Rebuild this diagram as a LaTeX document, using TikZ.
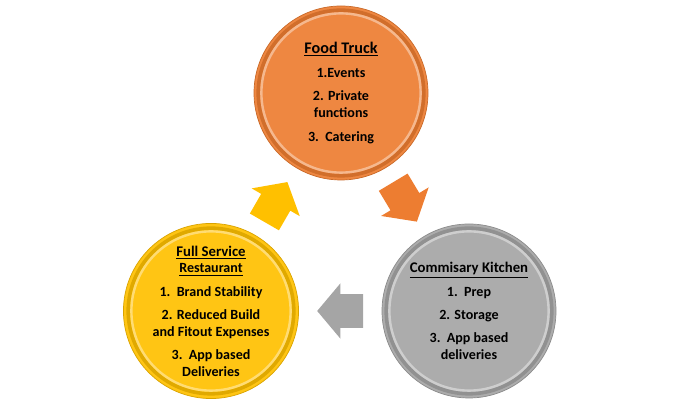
\documentclass[tikz,border=0pt]{standalone}
\usepackage{fontspec}
\setmainfont{Carlito}
\usetikzlibrary{shapes.arrows,calc,positioning}
\definecolor{truckorange}{HTML}{ED7D31}
\definecolor{restgold}{HTML}{FFC000}
\definecolor{kitchgrey}{HTML}{A5A5A5}

\begin{document}
\begin{tikzpicture}[
    disc/.style={circle, inner sep=0pt, minimum size=4.35cm, align=center, font=\bfseries, text=black,
        fill=#1!92!white, draw=#1!85!black, line width=0.5pt,
        path picture={
            \draw[#1!88!black, line width=0.09cm] (path picture bounding box.center) circle[radius=2.07cm];
            \draw[#1!55!white, line width=0.06cm] (path picture bounding box.center) circle[radius=1.99cm];
        }},
    flow/.style={single arrow, fill=#1, inner xsep=0pt, inner ysep=0.4125cm, minimum height=1.15cm,
        single arrow head extend=0.275cm, single arrow tip angle=100},
]
\useasboundingbox (0,0) rectangle (17,10);

% the three outlets
\node[disc=truckorange] (truck) at (8.525,7.675) {\fontsize{11.5}{12.6}\selectfont
    \underline{Food Truck}\\[5pt] 1.Events\\[5pt] 2. Private\\functions\\[5pt] 3.\ \ Catering};
\node[disc=restgold] (rest) at (5.275,2.225) {\fontsize{10.5}{11}\selectfont
    \underline{Full Service}\\\underline{Restaurant}\\[4.5pt] 1.\ \ Brand Stability\\[4.5pt]
    2. Reduced Build\\and Fitout Expenses\\[4.5pt] 3.\ \ App based\\Deliveries};
\node[disc=kitchgrey] (kitch) at (11.725,2.225) {\fontsize{10.5}{11}\selectfont
    \underline{Commisary Kitchen}\\[4.5pt] 1.\ \ Prep\\[4.5pt] 2. Storage\\[4.5pt] 3.\ \ App based\\deliveries};

% cycle arrows
\node[flow=restgold, rotate=60] (a1) at ($(rest)!0.472!(truck)$) {};
\node[flow=truckorange, rotate=-59] (a2) at ($(truck)!0.472!(kitch)$) {};
\node[flow=kitchgrey, rotate=180] (a3) at ($(kitch)!0.472!(rest)$) {};

\end{tikzpicture}
\end{document}
